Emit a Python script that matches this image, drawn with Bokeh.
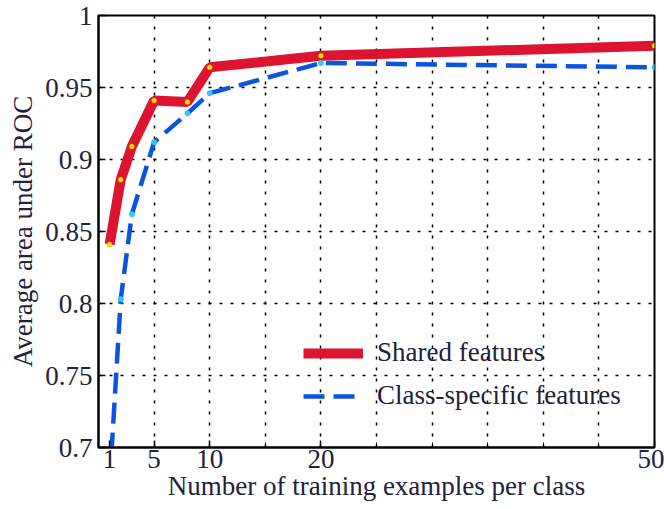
from bokeh.plotting import figure
from bokeh.models import FixedTicker, Range1d, Legend, LegendItem
from bokeh.embed import file_html
from bokeh.resources import INLINE

# Data
x_vals = [1, 2, 3, 5, 8, 10, 20, 50]
shared = [0.841, 0.886, 0.909, 0.941, 0.940, 0.964, 0.972, 0.979]
class_specific = [0.675, 0.803, 0.862, 0.912, 0.932, 0.946, 0.967, 0.964]

x_ticks = [1, 5, 10, 20, 50]
x_grid = [5, 10, 15, 20, 25, 30, 35, 40, 45]
y_ticks = [0.7, 0.75, 0.8, 0.85, 0.9, 0.95, 1.0]
y_labels = ["0.7", "0.75", "0.8", "0.85", "0.9", "0.95", "1"]

FONT = "Liberation Serif"
FS = "27px"
TXT = "#22223a"

p = figure(width=664, height=509, output_backend="svg", toolbar_location=None,
           x_range=Range1d(0, 50), y_range=Range1d(0.7, 1.0),
           min_border_left=98, min_border_right=10, min_border_top=15, min_border_bottom=62)

p.outline_line_color = "black"
p.outline_line_width = 2

for ax in (p.xaxis[0], p.yaxis[0]):
    ax.axis_line_color = "black"
    ax.axis_line_width = 2
    ax.major_tick_in = 7
    ax.major_tick_out = 0
    ax.minor_tick_in = 5
    ax.minor_tick_out = 0
    ax.major_tick_line_width = 1.5
    ax.major_label_text_font = FONT
    ax.major_label_text_font_size = FS
    ax.major_label_text_color = TXT
    ax.axis_label_text_font = FONT
    ax.axis_label_text_font_size = FS
    ax.axis_label_text_font_style = "normal"
    ax.axis_label_text_color = TXT

p.xaxis.ticker = FixedTicker(ticks=x_ticks, minor_ticks=x_grid)
p.yaxis.ticker = FixedTicker(ticks=y_ticks)
p.yaxis.major_label_overrides = {t: l for t, l in zip(y_ticks, y_labels)}
p.xaxis.major_label_standoff = 2
p.yaxis.major_label_standoff = 6
p.xaxis.axis_label = "Number of training examples per class"
p.yaxis.axis_label = "Average area under ROC"
p.xaxis.axis_label_standoff = 0
p.yaxis.axis_label_standoff = 4

p.xgrid.ticker = FixedTicker(ticks=x_grid)
p.ygrid.ticker = FixedTicker(ticks=y_ticks[1:-1])
for g in (p.xgrid[0], p.ygrid[0]):
    g.grid_line_color = "black"
    g.grid_line_dash = "3 8"
    g.grid_line_width = 1.5

r1 = p.line(x_vals, shared, line_color="#dc1430", line_width=10)
m1 = p.scatter(x_vals, shared, size=5, fill_color="#f5e600", line_color="#e8a000", line_width=0.5)
r2 = p.line(x_vals, class_specific, line_color="#0a54e0", line_width=4.5, line_dash="21 9")
m2 = p.scatter(x_vals, class_specific, size=5, fill_color="#30c8f0", line_color="#30c8f0")

legend = Legend(items=[LegendItem(label="Shared features", renderers=[r1]),
                       LegendItem(label="Class-specific features", renderers=[r2])],
                location=(205, 36), background_fill_alpha=0, border_line_alpha=0,
                label_text_font=FONT, label_text_font_size=FS, label_text_color=TXT,
                glyph_width=60, glyph_height=30, label_height=30, spacing=12,
                label_standoff=14, padding=0, margin=0)
p.add_layout(legend)

open("out.html", "w").write(file_html(p, INLINE))
